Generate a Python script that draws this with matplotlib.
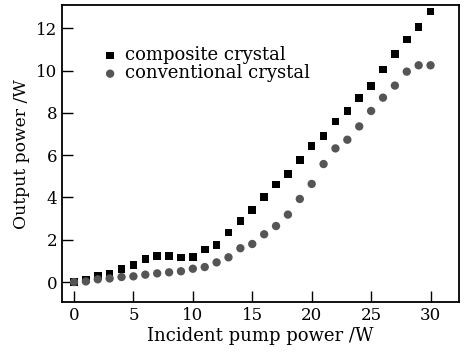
"""Output power vs incident pump power for composite and conventional crystals."""

import matplotlib

matplotlib.use("Agg")
import matplotlib.pyplot as plt

pump_power = list(range(0, 31))
composite = [0.00, 0.13, 0.28, 0.41, 0.61, 0.80, 1.09, 1.24, 1.23, 1.17,
             1.18, 1.54, 1.75, 2.35, 2.88, 3.40, 4.01, 4.61, 5.10, 5.78,
             6.44, 6.91, 7.59, 8.09, 8.69, 9.26, 10.05, 10.77, 11.46, 12.06,
             12.80]
conventional = [0.00, 0.03, 0.13, 0.17, 0.24, 0.27, 0.35, 0.41, 0.46, 0.51,
                0.63, 0.71, 0.93, 1.17, 1.60, 1.80, 2.26, 2.65, 3.19, 3.93,
                4.64, 5.58, 6.32, 6.73, 7.36, 8.09, 8.72, 9.29, 9.95, 10.25,
                10.25]

plt.rcParams["font.family"] = ["DejaVu Serif"]

fig = plt.figure(figsize=(4.67, 3.58), dpi=100)
ax = fig.add_axes([0.133, 0.156, 0.850, 0.830])

ax.scatter(pump_power, composite, marker="s", s=30, color="black",
           edgecolors="none", label="composite crystal", zorder=3)
ax.scatter(pump_power, conventional, marker="o", s=36, color="#555555",
           edgecolors="none", label="conventional crystal", zorder=3)

ax.set_xlim(-1, 32.4)
ax.set_ylim(-0.95, 13.1)
ax.set_xticks(range(0, 31, 5))
ax.set_yticks(range(0, 13, 2))
ax.tick_params(direction="in", length=8, width=1, labelsize=12,
               top=False, right=False)
for spine in ax.spines.values():
    spine.set_linewidth(1.3)

ax.set_xlabel("Incident pump power /W", fontsize=13, labelpad=2)
ax.set_ylabel("Output power /W", fontsize=12.3, labelpad=4)

ax.legend(loc="upper left", bbox_to_anchor=(0.08, 0.885), frameon=False,
          fontsize=13, handletextpad=0.35, labelspacing=0.0,
          borderaxespad=0, handlelength=1.0)

fig.savefig("out.png", dpi=100)
